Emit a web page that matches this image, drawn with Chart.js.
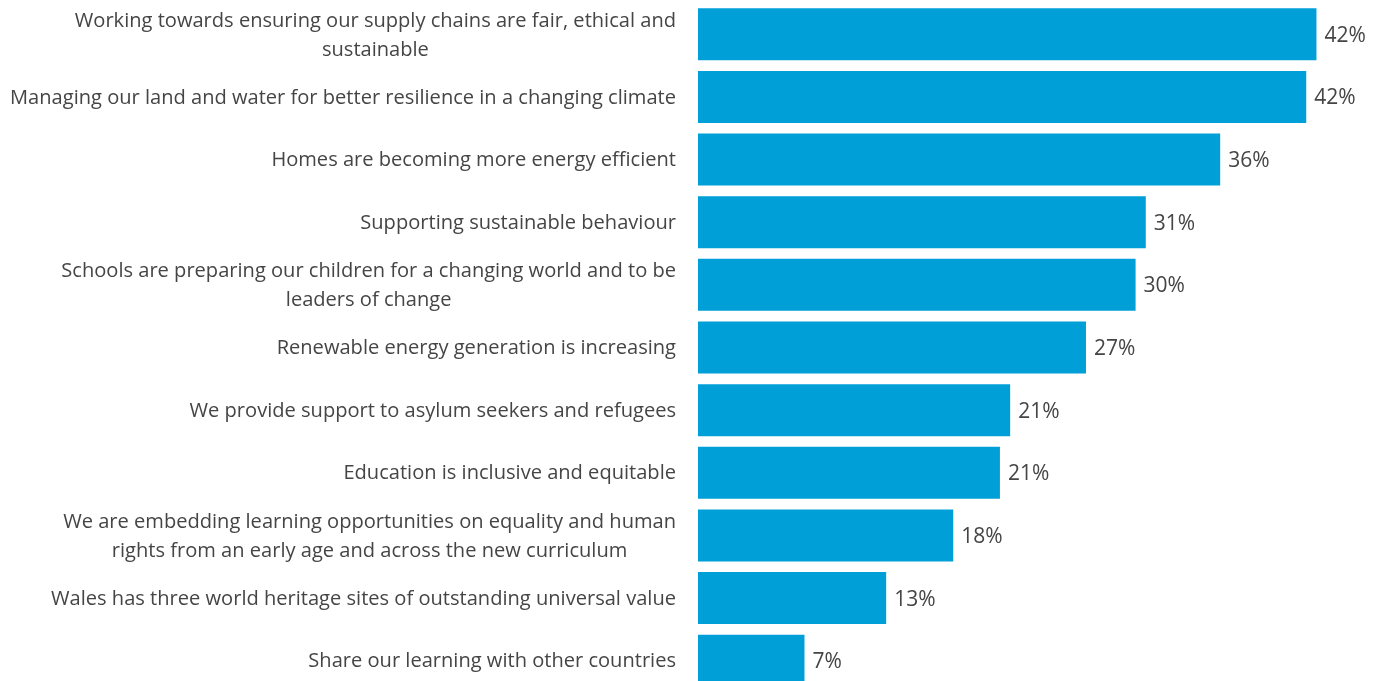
<!DOCTYPE html>
<html>
<head>
<meta charset="utf-8">
<script src="https://cdn.jsdelivr.net/npm/chart.js@4"></script>
<style>
  html, body { margin: 0; padding: 0; background: #fff; overflow: hidden; }
  #wrap { position: relative; width: 1379px; height: 692px; }
</style>
</head>
<body>
<div id="wrap"><canvas id="chart"></canvas></div>
<script>
// categories, top to bottom (multi-line ones split as in the original)
const categories = [
    ["Working towards ensuring our supply chains are fair, ethical and", "sustainable"],
    ["Managing our land and water for better resilience in a changing climate"],
    ["Homes are becoming more energy efficient"],
    ["Supporting sustainable behaviour"],
    ["Schools are preparing our children for a changing world and to be", "leaders of change"],
    ["Renewable energy generation is increasing"],
    ["We provide support to asylum seekers and refugees"],
    ["Education is inclusive and equitable"],
    ["We are embedding learning opportunities on equality and human", "rights from an early age and across the new curriculum"],
    ["Wales has three world heritage sites of outstanding universal value"],
    ["Share our learning with other countries"]
];
// share of respondents (%)
const values = [42.4, 41.7, 35.8, 30.7, 30.0, 26.6, 21.4, 20.7, 17.5, 12.9, 7.3];

const FONT = "'Open Sans', Lato, sans-serif";
const TEXT = "#454545";

// draws the category labels (block right-aligned, lines centred) and the value labels
const labelPlugin = {
    id: 'labels',
    afterDatasetsDraw(chart) {
        const ctx = chart.ctx;
        const yScale = chart.scales.y;
        const area = chart.chartArea;
        ctx.save();
        ctx.fillStyle = TEXT;
        ctx.textBaseline = 'middle';

        // the longest label runs from x=10 to the gap before the bars
        const right = area.left - 22;
        ctx.font = "20px " + FONT;
        const longest = ctx.measureText(categories[1][0]).width;
        const size = 20 * (right - 10) / longest;
        ctx.font = size.toFixed(2) + "px " + FONT;
        ctx.textAlign = 'center';
        categories.forEach(function (lines, i) {
            const yc = yScale.getPixelForValue(i) + 1;
            let w = 0;
            lines.forEach(function (l) { w = Math.max(w, ctx.measureText(l).width); });
            const lh = 29;
            lines.forEach(function (l, j) {
                ctx.fillText(l, right - w / 2, yc + (j - (lines.length - 1) / 2) * lh);
            });
        });

        ctx.font = "21px " + FONT;
        ctx.textAlign = 'left';
        const meta = chart.getDatasetMeta(0);
        meta.data.forEach(function (bar, i) {
            ctx.fillText(Math.round(values[i]) + '%', bar.x + 8, bar.y + 1.5);
        });
        ctx.restore();
    }
};

new Chart(document.getElementById("chart"), {
    type: 'bar',
    data: {
        labels: categories,
        datasets: [
            {
                data: values,
                backgroundColor: "#009fd7",
                borderWidth: 0,
                barPercentage: 0.83,
                categoryPercentage: 1
            }
        ]
    },
    options: {
        indexAxis: 'y',
        responsive: true,
        maintainAspectRatio: false,
        animation: false,
        layout: { padding: { top: 3, right: 29, bottom: 0, left: 0 } },
        plugins: {
            legend: { display: false },
            tooltip: { enabled: false }
        },
        scales: {
            x: {
                display: false,
                min: 0,
                max: 44.7
            },
            y: {
                grid: { display: false },
                border: { display: false },
                ticks: { display: false },
                afterFit: function (scale) { scale.width = 698; }
            }
        }
    },
    plugins: [labelPlugin]
});
</script>
</body>
</html>
